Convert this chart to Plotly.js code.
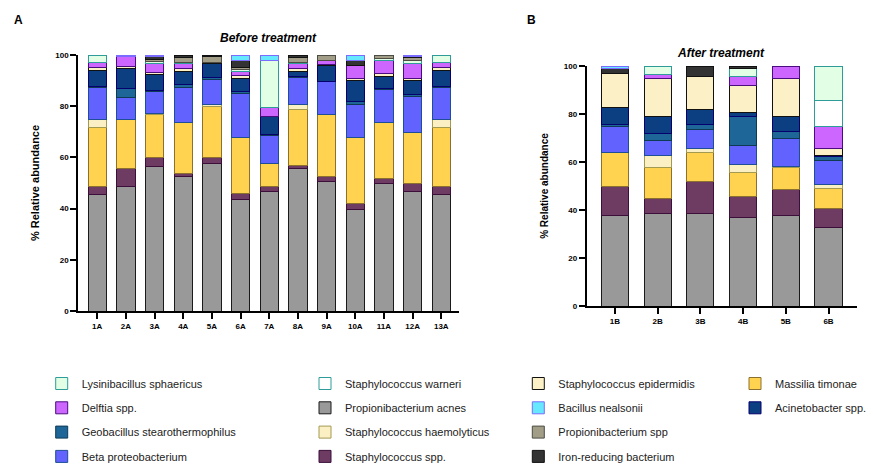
<!DOCTYPE html>
<html>
<head>
<meta charset="utf-8">
<script src="https://cdn.plot.ly/plotly-3.0.1.min.js"></script>
<style>html,body{margin:0;padding:0;background:#fff;}#chart{width:873px;height:464px;}</style>
</head>
<body>
<div id="chart"></div>
<script>
// Categories
const categoriesA = ['1A','2A','3A','4A','5A','6A','7A','8A','9A','10A','11A','12A','13A'];
const categoriesB = ['1B','2B','3B','4B','5B','6B'];
const yTicks = [0, 20, 40, 60, 80, 100];

// Before treatment (A), % relative abundance, stacked bottom to top
const pAcnesA   = [45.5,48.7,56.5,52.6,57.7,43.6,46.8,55.7,50.6,39.5,49.7,46.7,45.5];
const staphSppA = [3.2,7.1,3.3,1.2,2.1,2.2,2.0,1.2,2.1,2.3,2.1,3.0,3.2];
const massiliaA = [23.0,18.9,17.0,20.0,20.0,21.9,9.0,21.9,24.0,25.9,22.0,20.1,23.0];
const haemA     = [3.0,0.3,0.3,0,1.0,0,0,2.0,0.2,0,0,0,3.0];
const betaA     = [12.6,8.5,8.5,13.7,9.7,17.1,10.8,10.4,12.6,13.1,12.7,13.8,12.6];
const geoA      = [0.4,3.3,0.6,0.8,0.9,1.0,0.4,0.3,0.2,1.0,0.5,0.8,0.4];
const acinA     = [6.3,7.8,6.0,5.4,5.3,5.1,7.0,2.2,6.1,8.2,4.7,5.6,6.3];
const epidA     = [1.2,1.0,0.9,1.2,0.3,1.0,0,1.2,0.3,1.0,1.0,1.0,1.2];
const delftiaA  = [1.8,4.0,3.4,1.8,0,1.7,3.6,1.8,1.9,4.8,5.1,5.5,1.8];
const warneriA  = [0,0,0,0,0,0,0,0,0,0,0,0,0];
const lysinA    = [3.0,0,0.9,0.3,0,0.9,18.4,0.3,0,0,1.0,1.2,3.0];
const propSppA  = [0,0,0.9,2.0,2.3,0.6,0,2.0,2.0,0,1.2,1.3,0];
const ironA     = [0,0,1.0,1.0,0.7,2.6,0,1.0,0,2.0,0,0.5,0];
const bacillusA = [0,0.4,0.7,0,0,2.3,2.0,0,0,2.2,0,0.5,0];

// After treatment (B)
const pAcnesB   = [37.6,38.7,38.7,36.7,37.6,32.7];
const staphSppB = [12.1,6.2,13.1,9.1,11.1,8.1];
const massiliaB = [14.1,12.8,12.0,10.0,9.0,8.0];
const haemB     = [0,4.9,2.0,3.1,0.3,2.0];
const betaB     = [10.8,6.2,7.8,7.8,11.7,10.0];
const geoB      = [1.2,3.0,2.0,12.1,3.0,1.5];
const acinB     = [7.1,7.1,6.2,2.0,6.3,0.5];
const epidB     = [13.8,15.7,13.9,10.9,15.9,3.0];
const delftiaB  = [0,2.0,0,4.0,5.1,8.8];
const warneriB  = [0,0,0,0,0,11.0];
const lysinB    = [0,3.4,0,3.1,0,14.4];
const propSppB  = [0,0,0,0,0,0];
const ironB     = [2.4,0,4.3,1.2,0,0];
const bacillusB = [0.9,0,0,0,0,0];

// Species (stack order bottom -> top), styling and legend placement
const species = [
  {name:'Propionibacterium acnes',        a:pAcnesA,   b:pAcnesB,   fill:'#999999', line:'#1a1a1a', legend:'legend2', rank:2},
  {name:'Staphylococcus spp.',            a:staphSppA, b:staphSppB, fill:'#6E3B63', line:'#3B0F3A', legend:'legend2', rank:4},
  {name:'Massilia timonae',               a:massiliaA, b:massiliaB, fill:'#FFD24F', line:'#8C7030', legend:'legend4', rank:1},
  {name:'Staphylococcus haemolyticus',    a:haemA,     b:haemB,     fill:'#FBF0C4', line:'#A39A52', legend:'legend2', rank:3},
  {name:'Beta proteobacterium',           a:betaA,     b:betaB,     fill:'#6262FF', line:'#1D4E96', legend:'legend',  rank:4},
  {name:'Geobacillus stearothermophilus', a:geoA,      b:geoB,      fill:'#1E6598', line:'#0E3A55', legend:'legend',  rank:3},
  {name:'Acinetobacter spp.',             a:acinA,     b:acinB,     fill:'#0B3F81', line:'#06006E', legend:'legend4', rank:2},
  {name:'Staphylococcus epidermidis',     a:epidA,     b:epidB,     fill:'#FBF0C6', line:'#111111', legend:'legend3', rank:1},
  {name:'Delftia spp.',                   a:delftiaA,  b:delftiaB,  fill:'#CC66FF', line:'#4A0D80', legend:'legend',  rank:2},
  {name:'Staphylococcus warneri',         a:warneriA,  b:warneriB,  fill:'#FFFFFF', line:'#2E9C98', legend:'legend2', rank:1},
  {name:'Lysinibacillus sphaericus',      a:lysinA,    b:lysinB,    fill:'#E2FFE6', line:'#2E9C98', legend:'legend',  rank:1},
  {name:'Propionibacterium spp',          a:propSppA,  b:propSppB,  fill:'#A19D86', line:'#4D4D44', legend:'legend3', rank:3},
  {name:'Iron-reducing bacterium',        a:ironA,     b:ironB,     fill:'#333333', line:'#111111', legend:'legend3', rank:4},
  {name:'Bacillus nealsonii',             a:bacillusA, b:bacillusB, fill:'#66E8FF', line:'#7A6CFF', legend:'legend3', rank:2}
];

const nz = arr => arr.map(v => v === 0 ? null : v);
const traces = [];
species.forEach((s, i) => {
  traces.push({
    type:'bar', name:s.name, x:categoriesA, y:nz(s.a), xaxis:'x', yaxis:'y',
    marker:{color:s.fill, line:{color:s.line, width:1}},
    legend:s.legend, legendrank:s.rank, legendgroup:'g'+i, showlegend:true,
    hovertemplate:'%{x}: %{y}%<extra>'+s.name+'</extra>'
  });
  traces.push({
    type:'bar', name:s.name, x:categoriesB, y:nz(s.b), xaxis:'x2', yaxis:'y2',
    marker:{color:s.fill, line:{color:s.line, width:1}},
    legend:s.legend, legendgroup:'g'+i, showlegend:false,
    hovertemplate:'%{x}: %{y}%<extra>'+s.name+'</extra>'
  });
});

const W = 873, H = 464;
const px = v => v / W, py = v => 1 - v / H;
const FONT = '"Liberation Sans", Arial, sans-serif';
const tickFont = {family:FONT, size:8, color:'#000', weight:'bold'};
const legFont = {family:FONT, size:11, color:'#222'};

const axisBase = {
  showgrid:false, zeroline:false, showline:true, linecolor:'#000', linewidth:2,
  ticks:'outside', ticklen:6, tickwidth:2, tickcolor:'#000', tickfont:tickFont, fixedrange:true
};

function legendAt(xpx) {
  return {x:px(xpx), xanchor:'left', y:py(369), yanchor:'top', orientation:'v',
          traceorder:'grouped', tracegroupgap:5.3, font:legFont, bgcolor:'rgba(0,0,0,0)', borderwidth:0};
}

const layout = {
  width:W, height:H,
  margin:{l:0, r:0, t:0, b:0, autoexpand:false},
  paper_bgcolor:'#fff', plot_bgcolor:'#fff',
  barmode:'stack', bargap:0.365,
  showlegend:true,
  xaxis: Object.assign({}, axisBase, {domain:[px(78.3), px(458.5)], range:[-0.66, 12.6], anchor:'y', type:'category'}),
  yaxis: Object.assign({}, axisBase, {domain:[py(311), py(55)], range:[0, 100], tickvals:yTicks, anchor:'x',
          title:{text:'% Relative abundance', font:{family:FONT, size:11, color:'#000', weight:'bold'}, standoff:13}}),
  xaxis2: Object.assign({}, axisBase, {domain:[px(586.7), px(856.7)], range:[-0.66, 5.66], anchor:'y2', type:'category'}),
  yaxis2: Object.assign({}, axisBase, {domain:[py(306), py(66)], range:[0, 100], tickvals:yTicks, anchor:'x2',
          title:{text:'% Relative abundance', font:{family:FONT, size:10, color:'#000', weight:'bold'}, standoff:13}}),
  legend: legendAt(41.7),
  legend2: legendAt(305),
  legend3: legendAt(518.3),
  legend4: legendAt(735),
  annotations:[
    {text:'A', x:px(18), y:py(20), xref:'paper', yref:'paper', showarrow:false, xanchor:'center', yanchor:'middle',
     font:{family:FONT, size:12, color:'#000', weight:'bold'}},
    {text:'B', x:px(531), y:py(20), xref:'paper', yref:'paper', showarrow:false, xanchor:'center', yanchor:'middle',
     font:{family:FONT, size:12, color:'#000', weight:'bold'}},
    {text:'<i>Before treatment</i>', x:px(268), y:py(38), xref:'paper', yref:'paper', showarrow:false, xanchor:'center', yanchor:'middle',
     font:{family:FONT, size:12, color:'#000', weight:'bold'}},
    {text:'<i>After treatment</i>', x:px(721), y:py(53), xref:'paper', yref:'paper', showarrow:false, xanchor:'center', yanchor:'middle',
     font:{family:FONT, size:12, color:'#000', weight:'bold'}}
  ]
};

Plotly.newPlot('chart', traces, layout, {displayModeBar:false, staticPlot:true});
</script>
</body>
</html>
